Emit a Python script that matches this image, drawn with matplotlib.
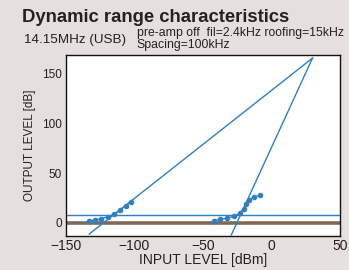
import matplotlib
matplotlib.use("Agg")
import matplotlib.pyplot as plt

plt.rcParams['font.family'] = ['Liberation Sans', 'DejaVu Sans']

# Fundamental & IMD3 measured points
fund_x = [-133.5, -128.8, -124.4, -119.1, -114.7, -110.5, -106.4, -102.2]
fund_y = [2, 3, 4.3, 6.3, 9, 12.7, 17.3, 21]
imd_x = [-42.2, -37.3, -32.5, -27.6, -23, -20.3, -18.6, -16.6, -12.5, -8.6]
imd_y = [2.3, 3.7, 4.7, 6.7, 9.7, 14, 19, 23.3, 26, 27.7]

# Ideal lines (start point -> intercept point)
line1_x = [-133, 30]
line1_y = [-11, 165]
line2_x = [-29.3, 30]
line2_y = [-12, 165]

noise_floor = 8
ref_level = 0

xticks = [-150, -100, -50, 0, 50]
yticks = [0, 50, 100, 150]

bg = "#e4e0dd"
blue = "#2f7fc1"
brown = "#7d6b57"

fig = plt.figure(figsize=(3.49, 2.70), dpi=100, facecolor=bg)
ax = fig.add_axes([0.189, 0.126, 0.785, 0.670])
ax.set_facecolor("white")

ax.axhline(ref_level, color=brown, lw=2.6, zorder=2)
ax.axhline(noise_floor, color=blue, lw=1.0, zorder=2)
ax.plot(line1_x, line1_y, color=blue, lw=1.0, zorder=3)
ax.plot(line2_x, line2_y, color=blue, lw=1.0, zorder=3)
ax.plot(fund_x, fund_y, color=blue, lw=1.0, marker="o", ms=3.0, zorder=4)
ax.plot(imd_x, imd_y, color=blue, lw=1.0, marker="o", ms=3.0, zorder=4)

ax.set_xlim(-150, 50)
ax.set_ylim(-13, 168)
ax.set_xticks(xticks)
ax.set_yticks(yticks)
ax.set_xticklabels(["\u2212150", "\u2212100", "\u221250", "0", "50"])
ax.tick_params(axis="x", length=0, labelsize=10, colors="#222222", pad=2)
ax.tick_params(axis="y", length=0, labelsize=8.5, colors="#222222", pad=3)
for s in ax.spines.values():
    s.set_linewidth(1.0)
    s.set_color("#111111")

ax.set_xlabel("INPUT LEVEL [dBm]", fontsize=10, color="#222222", labelpad=0)
ax.set_ylabel("OUTPUT LEVEL [dB]", fontsize=8.5, color="#222222", labelpad=4)

fig.text(0.063, 0.935, "Dynamic range characteristics", fontsize=13.3,
         fontweight="bold", color="#222222", va="center")
fig.text(0.070, 0.851, "14.15MHz (USB)", fontsize=9.7, color="#222222", va="center")
fig.text(0.392, 0.876, "pre-amp off  fil=2.4kHz roofing=15kHz", fontsize=8.8,
         color="#222222", va="center")
fig.text(0.392, 0.832, "Spacing=100kHz", fontsize=8.8, color="#222222", va="center")

fig.savefig("out.png", dpi=100, facecolor=bg)
